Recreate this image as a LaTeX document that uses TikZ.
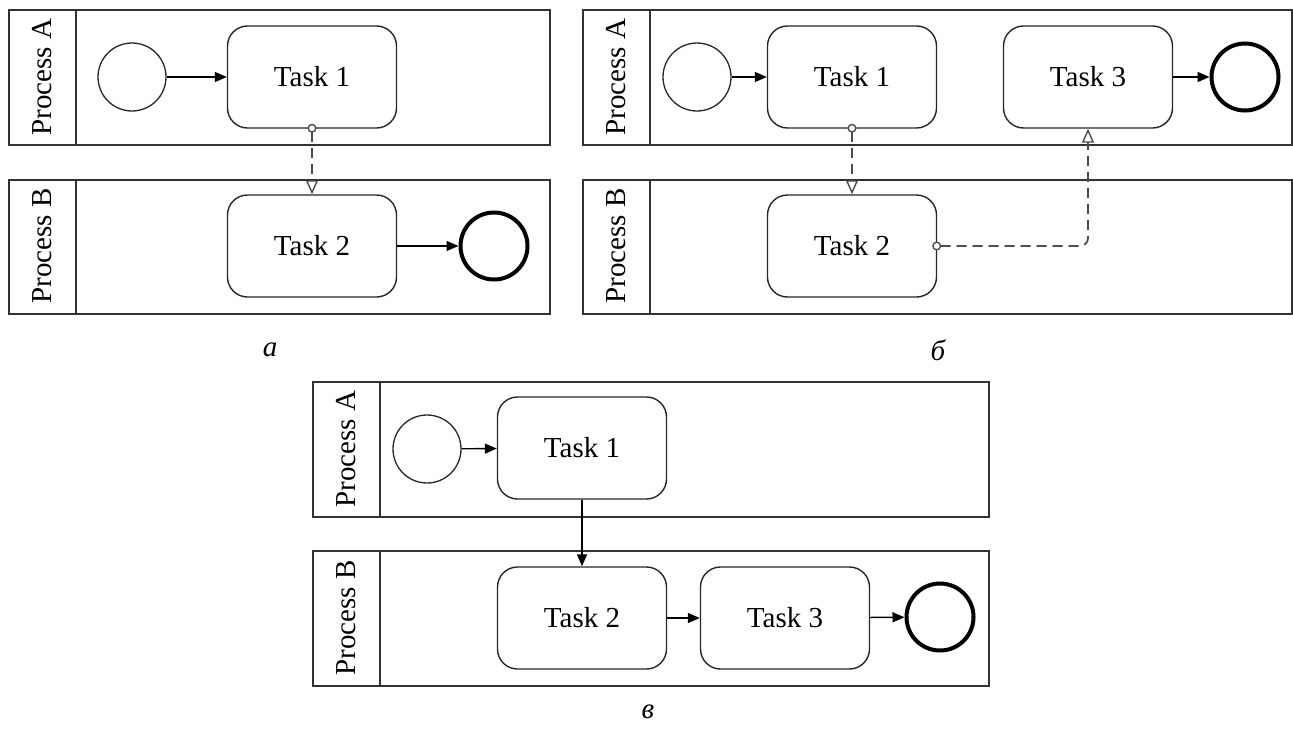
\documentclass[tikz,border=0pt]{standalone}
\usepackage{fontspec}
\setmainfont{Liberation Serif}
\usetikzlibrary{arrows.meta}
\begin{document}
\begin{tikzpicture}[x=1pt,y=-1pt,
  pool/.style={draw=black!80, line width=1.8pt, inner sep=0pt, anchor=north west},
  task/.style={draw=black!85, line width=1.4pt, rounded corners=20pt, minimum width=169pt, minimum height=102pt, font=\fontsize{29}{31}\selectfont, inner sep=0pt},
  startev/.style={circle, draw=black!85, line width=1.3pt, minimum size=68pt, inner sep=0pt},
  endev/.style={circle, draw=black, line width=4pt, minimum size=67pt, inner sep=0pt},
  flow/.style={draw=black, line width=1.4pt, -{Triangle[length=12pt,width=10pt]}},
  msg/.style={draw=black!70, line width=1.8pt, dash pattern=on 10pt off 6pt, shorten <=-5pt,
     {Circle[fill=white,length=9pt,width=9pt,line width=1.4pt]}-{Triangle[fill=white,length=14pt,width=12pt,line width=1.4pt]}},
  lanelbl/.style={rotate=90, font=\fontsize{29}{31}\selectfont, inner sep=0pt},
  caplbl/.style={font=\fontsize{29}{31}\selectfont\itshape, inner sep=0pt}]
\useasboundingbox (0,0) rectangle (1293,731);

% ---------- panel a ----------
\node[pool, minimum width=541pt, minimum height=135pt] (paA) at (8,9) {};
\node[pool, minimum width=541pt, minimum height=134pt] (paB) at (8,179) {};
\draw[pool] ([xshift=68pt]paA.north west) -- ([xshift=68pt]paA.south west);
\draw[pool] ([xshift=68pt]paB.north west) -- ([xshift=68pt]paB.south west);
\node[lanelbl] (laA) at (42,77) {Process A};
\node[lanelbl] (laB) at (42,246) {Process B};
\node[startev] (sa) at (132,77) {};
\node[task] (ta1) at (312,77) {Task 1};
\node[task] (ta2) at (312,246) {Task 2};
\node[endev] (ea) at (494,246) {};
\draw[flow] (sa) -- (ta1);
\draw[flow] (ta2) -- (ea);
\draw[msg] (ta1.south) -- (ta2.north);
\node[caplbl] (capa) at (270,350) {а};

% ---------- panel b ----------
\node[pool, minimum width=709pt, minimum height=135pt] (pbA) at (582,9) {};
\node[pool, minimum width=709pt, minimum height=134pt] (pbB) at (582,179) {};
\draw[pool] ([xshift=68pt]pbA.north west) -- ([xshift=68pt]pbA.south west);
\draw[pool] ([xshift=68pt]pbB.north west) -- ([xshift=68pt]pbB.south west);
\node[lanelbl] (lbA) at (616,77) {Process A};
\node[lanelbl] (lbB) at (616,246) {Process B};
\node[startev] (sb) at (697,77) {};
\node[task] (tb1) at (852,77) {Task 1};
\node[task] (tb3) at (1088,77) {Task 3};
\node[task] (tb2) at (852,246) {Task 2};
\node[endev] (eb) at (1245,77) {};
\draw[flow] (sb) -- (tb1);
\draw[flow] (tb3) -- (eb);
\draw[msg] (tb1.south) -- (tb2.north);
\draw[msg, rounded corners=8pt] (tb2.east) -| (tb3.south);
\node[caplbl] (capb) at (938,350) {б};

% ---------- panel c ----------
\node[pool, minimum width=676pt, minimum height=135pt] (pcA) at (312,381) {};
\node[pool, minimum width=676pt, minimum height=135pt] (pcB) at (312,550) {};
\draw[pool] ([xshift=68pt]pcA.north west) -- ([xshift=68pt]pcA.south west);
\draw[pool] ([xshift=68pt]pcB.north west) -- ([xshift=68pt]pcB.south west);
\node[lanelbl] (lcA) at (346,449) {Process A};
\node[lanelbl] (lcB) at (346,618) {Process B};
\node[startev] (sc) at (427,449) {};
\node[task] (tc1) at (582,448) {Task 1};
\node[task] (tc2) at (582,618) {Task 2};
\node[task] (tc3) at (785,618) {Task 3};
\node[endev] (ec) at (940,617) {};
\draw[flow] (sc) -- (tc1);
\draw[flow] (tc1.south) -- (tc2.north);
\draw[flow] (tc2) -- (tc3);
\draw[flow] (tc3) -- (ec);
\node[caplbl] (capc) at (648,712) {в};
\end{tikzpicture}
\end{document}
